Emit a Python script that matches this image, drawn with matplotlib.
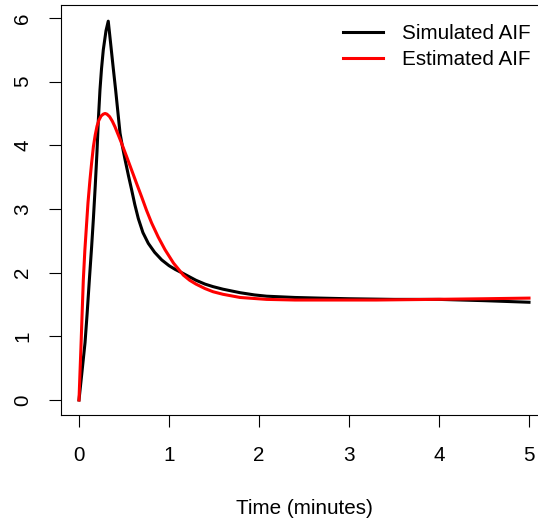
import numpy as np
import matplotlib
matplotlib.use("Agg")
import matplotlib.pyplot as plt

plt.rcParams['font.family'] = ['Liberation Sans', 'DejaVu Sans']

## values
sim_time = [0, 0.03, 0.067, 0.09, 0.115, 0.14, 0.16, 0.18, 0.2, 0.215, 0.233,
            0.25, 0.27, 0.30, 0.325, 0.35, 0.38, 0.407, 0.43, 0.456, 0.48,
            0.511, 0.55, 0.585, 0.62, 0.659, 0.71, 0.77, 0.84, 0.919, 1.0,
            1.07, 1.14, 1.22, 1.3, 1.4, 1.49, 1.6, 1.79, 1.95, 2.085, 2.4,
            2.68, 3.0, 3.5, 4.0, 4.5, 5.0]
sim_aif = [0, 0.4, 0.9, 1.35, 1.885, 2.4, 2.85, 3.35, 3.9, 4.4, 4.87,
           5.2, 5.5, 5.8, 5.95, 5.62, 5.22, 4.87, 4.55, 4.19, 4.0,
           3.78, 3.52, 3.30, 3.07, 2.85, 2.63, 2.46, 2.32, 2.20, 2.11,
           2.05, 2.0, 1.94, 1.88, 1.82, 1.78, 1.74, 1.685, 1.65, 1.63, 1.61,
           1.60, 1.59, 1.58, 1.58, 1.56, 1.535]

est_time = [0, 0.011, 0.022, 0.035, 0.048, 0.065, 0.085, 0.10, 0.122, 0.14,
            0.16, 0.18, 0.2, 0.22, 0.245, 0.27, 0.29, 0.31, 0.34, 0.37, 0.40,
            0.44, 0.474, 0.53, 0.585, 0.64, 0.696, 0.75, 0.807, 0.88, 0.956,
            1.05, 1.16, 1.23, 1.3, 1.4, 1.49, 1.6, 1.79, 2.085, 2.4, 2.68,
            3.3, 3.93, 4.5, 5.0]
est_aif = [0, 0.43, 0.84, 1.37, 1.885, 2.35, 2.78, 3.1, 3.46, 3.72,
           3.98, 4.16, 4.3, 4.39, 4.46, 4.49, 4.50, 4.49, 4.45, 4.38, 4.29,
           4.15, 4.03, 3.82, 3.61, 3.40, 3.19, 2.98, 2.78, 2.56, 2.36,
           2.15, 1.96, 1.88, 1.82, 1.75, 1.70, 1.66, 1.61, 1.58, 1.57, 1.57,
           1.57, 1.58, 1.59, 1.60]

x_ticks = [0, 1, 2, 3, 4, 5]
y_ticks = [0, 1, 2, 3, 4, 5, 6]
legend_labels = ['Simulated AIF', 'Estimated AIF']

W, H = 538, 520
fs = 14.9

fig = plt.figure(figsize=(W / 100, H / 100), dpi=100)
# plot region runs past the right edge, as in the cropped original
ax = fig.add_axes([61 / W, 105 / H, 486 / W, 410 / H])

ax.plot(sim_time, sim_aif, color='black', lw=2.2, label=legend_labels[0])
ax.plot(est_time, est_aif, color='red', lw=2.2, label=legend_labels[1])

ax.set_xlim(-0.2, 5.2)
ax.set_ylim(-0.236, 6.204)
ax.set_xticks(x_ticks)
ax.set_yticks(y_ticks)
ax.set_xticklabels([str(t) for t in x_ticks], fontsize=fs)
ax.set_yticklabels([str(t) for t in y_ticks], fontsize=fs, rotation=90, va='center')
ax.tick_params(axis='x', direction='out', length=8.6, width=0.8, pad=14)
ax.tick_params(axis='y', direction='out', length=8.6, width=0.8, pad=12)
for s in ax.spines.values():
    s.set_linewidth(0.8)

ax.set_xlabel('Time (minutes)', fontsize=fs, labelpad=24)

ax.legend(loc='upper left', bbox_to_anchor=(343 / W, 1 - 24 / H),
          bbox_transform=fig.transFigure, frameon=False, fontsize=fs,
          borderpad=0, borderaxespad=0, handlelength=1.93,
          handletextpad=0.92, labelspacing=0.34)

fig.savefig('out.png', dpi=100)
